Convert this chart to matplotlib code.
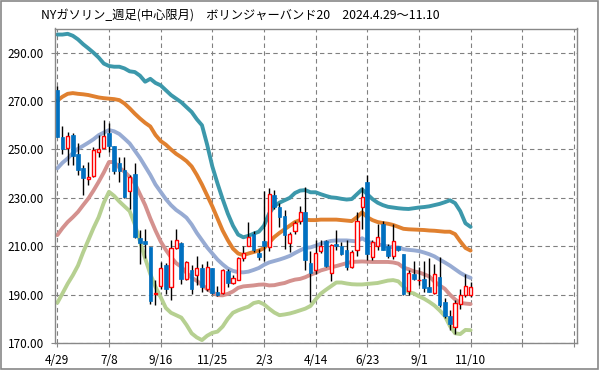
import matplotlib.pyplot as plt
from matplotlib.patches import Rectangle

plt.rcParams['font.family'] = ['Noto Sans CJK JP', 'DejaVu Sans']

# Data (weekly candles, index 0 = 4/29)
tick_labels = ['4/29', '7/8', '9/16', '11/25', '2/3', '4/14', '6/23', '9/1', '11/10']

opens = [274.6, 255.0, 250.7, 256.0, 248.0, 242.4, 237.6, 239.2, 248.8, 250.8,
         256.9, 251.5, 244.2, 241.7, 232.9, 239.7, 213.6, 212.0, 209.7, 190.2,
         193.6, 202.1, 193.2, 209.4, 211.4, 196.6, 200.3, 198.0, 201.1, 192.5,
         201.1, 191.0, 190.7, 199.7, 194.8, 196.2, 205.2, 210.3, 214.9, 207.2,
         212.0, 209.6, 231.0, 226.4, 222.7, 211.3, 216.1, 220.6, 224.3, 203.1,
         200.0, 208.0, 212.1, 198.9, 211.0, 209.9, 208.3, 201.4, 208.3, 226.1,
         236.7, 205.5, 210.3, 219.0, 209.9, 205.9, 209.9, 206.9, 191.5, 198.6,
         196.0, 196.6, 193.3, 190.7, 197.3, 186.9, 181.0, 176.5, 186.1, 190.0,
         190.0]
highs = [276.2, 259.7, 257.3, 256.6, 252.8, 243.5, 244.9, 251.1, 255.9, 262.1,
         260.8, 251.5, 247.0, 247.0, 239.4, 244.2, 216.7, 217.0, 209.7, 196.0,
         203.5, 203.1, 212.5, 217.3, 211.8, 204.0, 202.1, 205.8, 202.8, 204.1,
         201.1, 193.5, 200.7, 200.7, 198.0, 205.5, 210.3, 220.0, 216.5, 209.0,
         233.0, 234.0, 233.3, 227.8, 224.8, 215.8, 220.6, 226.8, 234.4, 208.2,
         212.4, 212.4, 212.4, 211.0, 216.8, 211.7, 212.4, 208.3, 224.0, 234.4,
         239.6, 212.4, 219.3, 220.6, 211.0, 219.3, 210.3, 206.9, 200.0, 204.1,
         201.4, 204.1, 205.0, 202.8, 205.5, 188.6, 183.5, 187.7, 192.4, 198.6,
         195.1]
lows = [255.0, 248.0, 243.5, 243.5, 239.4, 231.0, 235.2, 238.7, 247.0, 250.4,
        249.0, 239.8, 236.6, 230.0, 225.4, 213.6, 202.8, 205.0, 186.0, 185.7,
        192.5, 190.4, 187.7, 209.0, 194.5, 196.0, 190.4, 193.8, 191.0, 191.5,
        190.4, 189.5, 190.4, 193.1, 194.2, 195.9, 204.1, 209.9, 207.6, 204.4,
        204.1, 208.0, 225.5, 217.9, 209.0, 207.6, 215.1, 219.3, 200.0, 186.8,
        198.6, 207.0, 201.4, 195.6, 208.3, 206.2, 200.0, 201.1, 206.0, 217.0,
        204.4, 204.4, 208.5, 208.5, 205.2, 204.8, 208.0, 189.7, 189.7, 195.9,
        193.8, 191.0, 191.0, 190.4, 184.9, 180.5, 175.2, 173.8, 184.0, 188.9,
        188.9]
closes = [255.2, 250.0, 255.7, 247.2, 241.7, 238.4, 238.8, 249.6, 250.1, 255.7,
          251.5, 241.2, 241.2, 230.4, 238.7, 213.9, 211.4, 211.0, 187.4, 190.6,
          200.8, 192.5, 209.4, 212.5, 196.6, 203.5, 192.5, 201.1, 193.1, 201.4,
          190.7, 190.0, 200.0, 194.8, 197.0, 205.2, 207.2, 213.8, 208.3, 205.5,
          209.9, 231.4, 226.2, 222.0, 214.5, 214.9, 219.5, 224.1, 204.4, 198.8,
          207.0, 209.9, 202.0, 210.6, 209.9, 206.9, 201.4, 207.6, 220.6, 230.5,
          206.6, 211.7, 214.0, 208.5, 205.8, 212.0, 208.3, 190.4, 198.9, 196.6,
          196.2, 192.9, 191.2, 198.6, 185.6, 181.2, 178.0, 186.5, 189.9, 193.5,
          193.1]

# Bollinger bands (20 weeks)
band_up2 = [297.5, 297.5, 297.8, 297.0, 295.5, 293.5, 291.8, 290.0, 288.0, 285.5,
            284.5, 284.2, 284.2, 283.5, 282.3, 282.0, 280.5, 278.0, 279.2, 277.5,
            276.5, 274.5, 272.5, 271.0, 269.5, 267.5, 265.5, 262.5, 260.0, 252.0,
            243.0, 236.0, 229.5, 223.5, 218.5, 214.8, 213.7, 214.3, 215.2, 216.0,
            218.5, 223.5, 226.6, 228.0, 229.0, 230.0, 232.0, 233.0, 233.2, 232.3,
            232.3, 231.5, 230.8, 230.2, 230.0, 229.6, 229.3, 229.5, 231.5, 233.5,
            231.5, 229.5, 228.0, 227.0, 226.3, 226.0, 225.7, 225.5, 225.4, 225.7,
            226.0, 226.2, 226.5, 227.0, 227.5, 228.2, 229.0, 227.8, 224.5, 219.5,
            218.0]
band_up1 = [270.2, 271.8, 273.0, 273.3, 273.0, 272.8, 272.5, 272.0, 271.5, 271.2,
            271.0, 270.8, 270.4, 269.0, 267.0, 264.8, 262.8, 261.0, 259.5, 256.0,
            253.5, 252.0, 250.0, 248.2, 246.8, 245.2, 243.0, 239.5, 235.5, 231.0,
            226.5, 221.5, 216.5, 212.5, 209.0, 207.0, 206.3, 207.0, 207.6, 208.2,
            209.2, 211.5, 213.8, 215.5, 217.0, 218.5, 220.0, 220.8, 221.0, 220.8,
            220.8, 221.0, 221.0, 221.0, 221.0, 220.8, 220.6, 220.4, 222.0, 224.0,
            222.0, 220.8, 220.0, 219.6, 219.3, 218.8, 218.0, 217.2, 217.0, 216.9,
            216.8, 216.7, 216.5, 216.4, 216.2, 216.0, 216.0, 215.0, 212.0, 209.3,
            208.2]
band_mid = [242.2, 244.5, 246.3, 248.5, 250.3, 251.5, 252.8, 254.2, 255.9, 257.0,
            258.0, 257.5, 256.4, 254.5, 252.5, 249.5, 246.5, 243.0, 239.5, 235.5,
            232.5, 229.5, 227.0, 225.0, 223.5, 221.8, 219.0, 215.5, 212.5, 209.5,
            207.0, 204.5, 202.5, 200.8, 199.8, 199.3, 199.2, 199.5, 200.2, 201.0,
            202.3, 203.3, 203.9, 204.5, 205.2, 206.0, 207.2, 208.3, 209.3, 209.5,
            210.2, 211.0, 211.7, 212.2, 212.4, 212.4, 212.4, 212.2, 212.0, 213.3,
            212.0, 211.2, 210.8, 210.3, 209.9, 209.6, 209.5, 208.8, 208.5, 208.3,
            208.0, 207.4, 206.7, 205.8, 204.5, 203.3, 202.0, 200.5, 199.0, 197.8,
            196.9]
band_dn1 = [214.6, 217.5, 220.0, 222.0, 224.2, 227.0, 229.7, 233.0, 236.6, 240.5,
            244.8, 244.8, 242.5, 240.8, 238.7, 236.0, 231.5, 227.0, 221.5, 216.5,
            212.0, 208.5, 205.5, 203.0, 201.5, 199.0, 197.0, 195.7, 194.0, 192.3,
            191.0, 189.8, 189.7, 190.3, 191.3, 192.8, 193.4, 193.6, 193.8, 194.1,
            194.2, 193.8, 193.9, 194.4, 194.8, 195.6, 196.2, 196.5, 197.2, 198.2,
            199.0, 200.0, 200.6, 201.3, 201.8, 202.4, 203.0, 203.5, 203.6, 203.7,
            203.6, 203.5, 203.5, 203.5, 203.5, 203.3, 202.8, 201.2, 200.5, 199.6,
            199.2, 198.4, 197.5, 195.4, 193.8, 192.4, 190.0, 188.0, 186.6, 186.3,
            186.1]
band_dn2 = [186.6, 190.5, 194.5, 198.0, 202.0, 207.5, 212.5, 217.5, 222.0, 228.0,
            232.5, 230.8, 228.5, 226.5, 224.5, 219.0, 212.0, 205.0, 198.5, 193.2,
            189.0, 184.5, 182.5, 181.5, 180.5, 177.5, 174.0, 172.3, 171.2, 173.0,
            174.2, 174.7, 176.8, 180.0, 182.5, 183.5, 184.3, 185.0, 186.5, 187.0,
            186.0, 184.2, 182.6, 181.5, 181.8, 182.2, 182.8, 183.5, 184.2, 185.3,
            188.0, 190.4, 192.0, 193.5, 195.0, 195.0, 194.6, 194.3, 194.2, 194.2,
            194.4, 194.6, 194.8, 195.3, 195.8, 196.0, 195.5, 193.3, 191.0, 190.5,
            189.3, 188.3, 187.0, 185.5, 183.5, 181.2, 177.0, 174.0, 173.7, 175.4,
            175.3]

fig = plt.figure(figsize=(5.99, 3.70), dpi=100)
ax = fig.add_axes([55 / 599, 1 - 343 / 370, (576.5 - 55) / 599, (343 - 28.5) / 370])

x = list(range(len(closes)))

# bands
band_styles = [(band_up2, '#3c98ab'), (band_up1, '#e0802f'), (band_mid, '#97abd3'),
               (band_dn1, '#d4918e'), (band_dn2, '#b6d091')]
for vals, col in band_styles:
    ax.plot(x, vals, color=col, lw=2.8, solid_capstyle='round', zorder=2)

# candles
ax.vlines(x, lows, highs, color='black', lw=1, zorder=3)
up = [c >= o for o, c in zip(opens, closes)]
bottoms = [min(o, c) for o, c in zip(opens, closes)]
heights = [abs(c - o) for o, c in zip(opens, closes)]
for i in x:
    if up[i]:
        ax.bar(i, heights[i], bottom=bottoms[i], width=0.62, facecolor='white',
               edgecolor='#ff0000', lw=1, zorder=4)
    else:
        ax.bar(i, heights[i], bottom=bottoms[i], width=0.7, facecolor='#0070c0',
               edgecolor='#0070c0', lw=0.5, zorder=4)

ax.set_xlim(-0.45, 100.5)
ax.set_ylim(170, 300)
ax.set_yticks(range(170, 300, 20))
ax.set_yticklabels([f'{v:.2f}' for v in range(170, 300, 20)])
ax.set_xticks(range(0, 101, 10))
ax.set_xticklabels(tick_labels + ['', ''])
ax.tick_params(axis='both', labelsize=8.5, colors='#000000', length=3, width=0.8)
ax.tick_params(axis='both', color='#888888')
ax.tick_params(axis='x', pad=5)
ax.tick_params(axis='y', pad=5)
ax.grid(True, color='#808080', linestyle=(0, (4, 3)), lw=0.8)
ax.set_axisbelow(True)
for s in ax.spines.values():
    s.set_color('#888888')
    s.set_linewidth(1)

fig.text(240 / 599, 1 - 16 / 370,
         'NYガソリン_週足(中心限月)　ボリンジャーバンド20　2024.4.29～11.10',
         ha='center', va='center', fontsize=8.8)

fig.patches.append(Rectangle((0.001, 0.002), 0.997, 0.995, transform=fig.transFigure,
                             fill=False, edgecolor='#888888', lw=1.2))

fig.savefig('out.png', dpi=100)
